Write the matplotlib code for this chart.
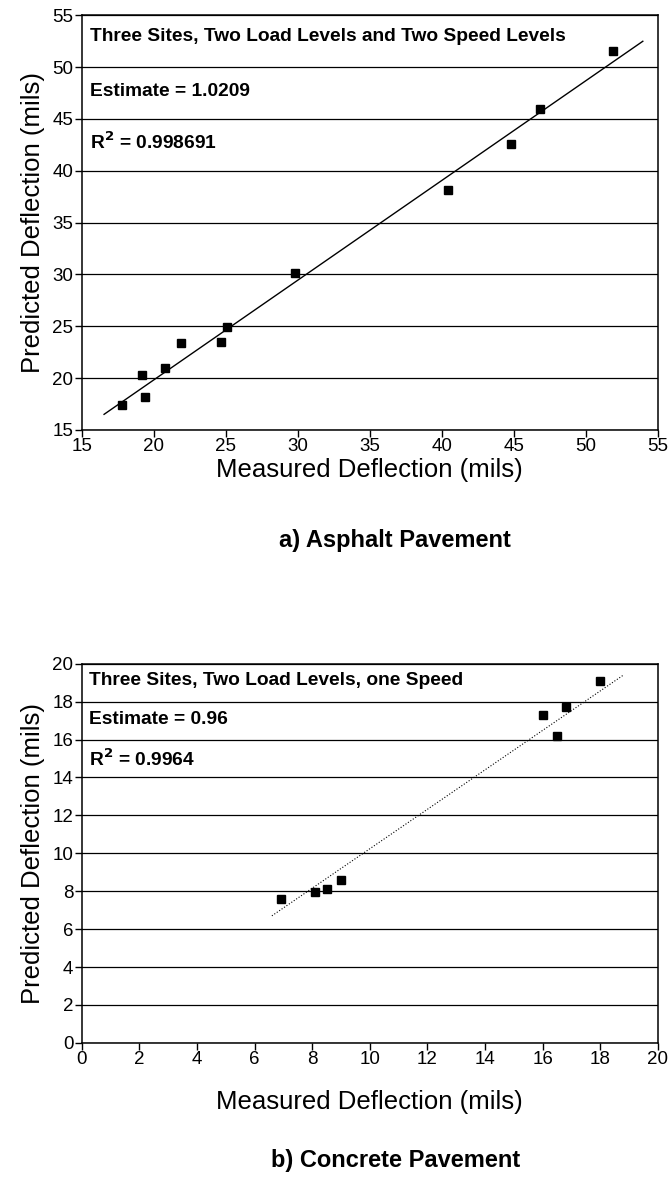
import numpy as np
import matplotlib
matplotlib.use("Agg")
import matplotlib.pyplot as plt

plt.rcParams['font.family'] = ['Liberation Sans', 'DejaVu Sans']

# ---- a) Asphalt pavement ----
asf_medida = [17.8, 19.2, 19.4, 20.8, 21.9, 24.7, 25.1, 29.8, 40.4, 44.8, 46.8, 51.9]
asf_predic = [17.4, 20.3, 18.2, 21.0, 23.4, 23.5, 24.9, 30.1, 38.1, 42.6, 46.0, 51.6]
asf_linea_x = [16.55, 53.95]
asf_linea_y = [16.5, 52.5]
asf_textos = ["Three Sites, Two Load Levels and Two Speed Levels",
              "Estimate = 1.0209",
              r"R$^\mathbf{2}$ = 0.998691"]

# ---- b) Concrete pavement ----
con_medida = [6.9, 8.1, 8.5, 9.0, 16.0, 16.5, 16.8, 18.0]
con_predic = [7.6, 7.95, 8.1, 8.6, 17.3, 16.2, 17.7, 19.1]
con_linea_x = [6.6, 18.8]
con_linea_y = [6.7, 19.4]
con_textos = ["Three Sites, Two Load Levels, one Speed",
              "Estimate = 0.96",
              r"R$^\mathbf{2}$ = 0.9964"]

fig = plt.figure(figsize=(6.7, 11.81), dpi=100)
ax1 = fig.add_axes([0.122, 0.636, 0.860, 0.351])
ax2 = fig.add_axes([0.122, 0.117, 0.860, 0.321])


def dibujar(ax, x, y, lx, ly, estilo, xlim, ylim, paso, textos, ytxt, xtxt, pad_x):
    ax.plot(lx, ly, color='black', lw=1.0 if estilo == '-' else 0.8, ls=estilo)
    ax.plot(x, y, 's', color='black', ms=5.5, zorder=3)
    ax.set_xlim(xlim)
    ax.set_ylim(ylim)
    ax.set_xticks(np.arange(xlim[0], xlim[1] + 0.1, paso[0]))
    ax.set_yticks(np.arange(ylim[0], ylim[1] + 0.1, paso[1]))
    ax.yaxis.grid(True, color='black', lw=0.9)
    ax.set_axisbelow(True)
    ax.tick_params(direction='out', length=5, width=1, labelsize=13.5, pad=1)
    for s in ax.spines.values():
        s.set_linewidth(1.1)
    ax.set_xlabel("Measured Deflection (mils)", fontsize=18.5, labelpad=pad_x)
    ax.set_ylabel("Predicted Deflection (mils)", fontsize=18.5, labelpad=5)
    for t, yy in zip(textos, ytxt):
        ax.text(xtxt, yy, t, fontsize=13.8, fontweight='bold', va='center', ha='left')


dibujar(ax1, asf_medida, asf_predic, asf_linea_x, asf_linea_y, '-',
        (15, 55), (15, 55), (5, 5), asf_textos, [53.0, 47.7, 42.8], 15.6, 2)
dibujar(ax2, con_medida, con_predic, con_linea_x, con_linea_y, ':',
        (0, 20), (0, 20), (2, 2), con_textos, [19.1, 17.05, 14.95], 0.25, 16)

fig.text(0.59, 1 - 540 / 1181, "a) Asphalt Pavement", fontsize=17,
         fontweight='bold', ha='center', va='center')
fig.text(0.59, 1 - 1160 / 1181, "b) Concrete Pavement", fontsize=17,
         fontweight='bold', ha='center', va='center')

fig.savefig("out.png", dpi=100)
